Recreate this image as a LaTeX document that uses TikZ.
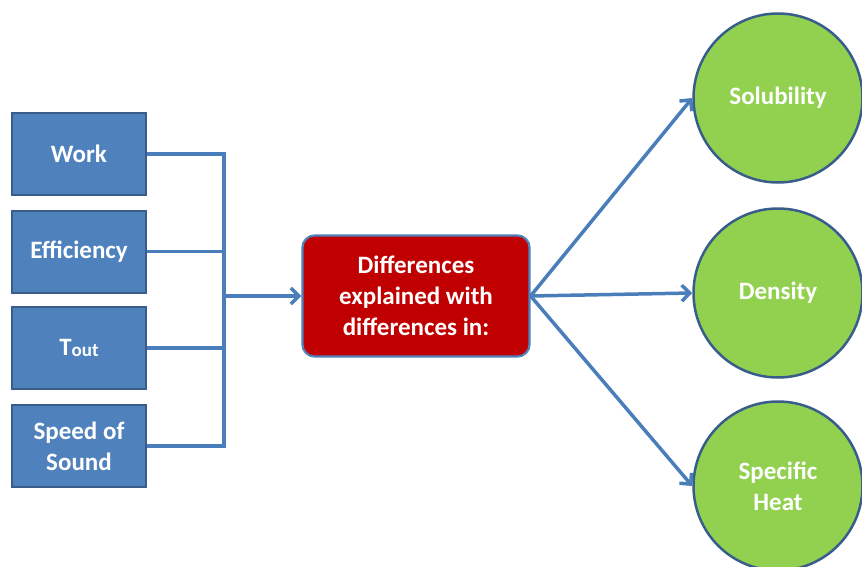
\documentclass[tikz,border=0pt]{standalone}
\usepackage{fontspec}
\setmainfont{Carlito}
\usetikzlibrary{arrows.meta}
\definecolor{boxblue}{HTML}{4F81BD}
\definecolor{edgeblue}{HTML}{385D8A}
\definecolor{linkblue}{HTML}{4A7EBB}
\definecolor{darkred}{HTML}{C00000}
\definecolor{leafgreen}{HTML}{92D050}
\begin{document}
\begin{tikzpicture}[x=1pt,y=-1pt,
  txt/.style={text=white,font=\fontsize{25}{31}\selectfont\bfseries,align=center},
  srcbox/.style={txt,draw=edgeblue,fill=boxblue,line width=2pt,minimum width=134pt,minimum height=82pt,inner sep=0pt},
  hub/.style={txt,draw=boxblue,fill=darkred,line width=2.2pt,rounded corners=12pt,minimum width=227pt,minimum height=121pt,inner sep=0pt},
  leaf/.style={txt,circle,draw=edgeblue,fill=leafgreen,line width=2.5pt,minimum size=169pt,inner sep=0pt},
  link/.style={draw=linkblue,line width=3.5pt},
  arr/.style={link,-{Straight Barb[length=8pt,width=16pt,line width=3.5pt]}}]
  \useasboundingbox (0,0) rectangle (862,567);

  % source quantities
  \node[srcbox] (work) at (79,154)   {Work};
  \node[srcbox] (eff)  at (79,251.5) {Efficiency};
  \node[srcbox] (tout) at (79,348)   {T\raisebox{-1pt}{\fontsize{19}{19}\selectfont out}};
  \node[srcbox] (sos)  at (79,446)   {Speed of\\Sound};

  % central explanation box
  \node[hub] (hub) at (416,296) {Differences\\explained with\\differences in:};

  % property circles
  \node[leaf] (sol)  at (778,98)  {\raisebox{-2pt}{Solubility}};
  \node[leaf] (den)  at (778,293) {\raisebox{-2pt}{Density}};
  \node[leaf] (heat) at (778,486) {Specific\\Heat};

  % bracket collecting the sources
  \coordinate (bx) at (224,296);
  \draw[link] (work.east) -- (work.east -| bx);
  \draw[link] (eff.east)  -- (eff.east -| bx);
  \draw[link] (tout.east) -- (tout.east -| bx);
  \draw[link] (sos.east)  -- (sos.east -| bx);
  \draw[link,line cap=rect] (work.east -| bx) -- (sos.east -| bx);
  \draw[arr] (bx) -- (hub.west);

  % fan-out to the properties
  \draw[arr] (hub.east) -- (sol.west);
  \draw[arr] (hub.east) -- (den.west);
  \draw[arr] (hub.east) -- (heat.west);
\end{tikzpicture}
\end{document}
